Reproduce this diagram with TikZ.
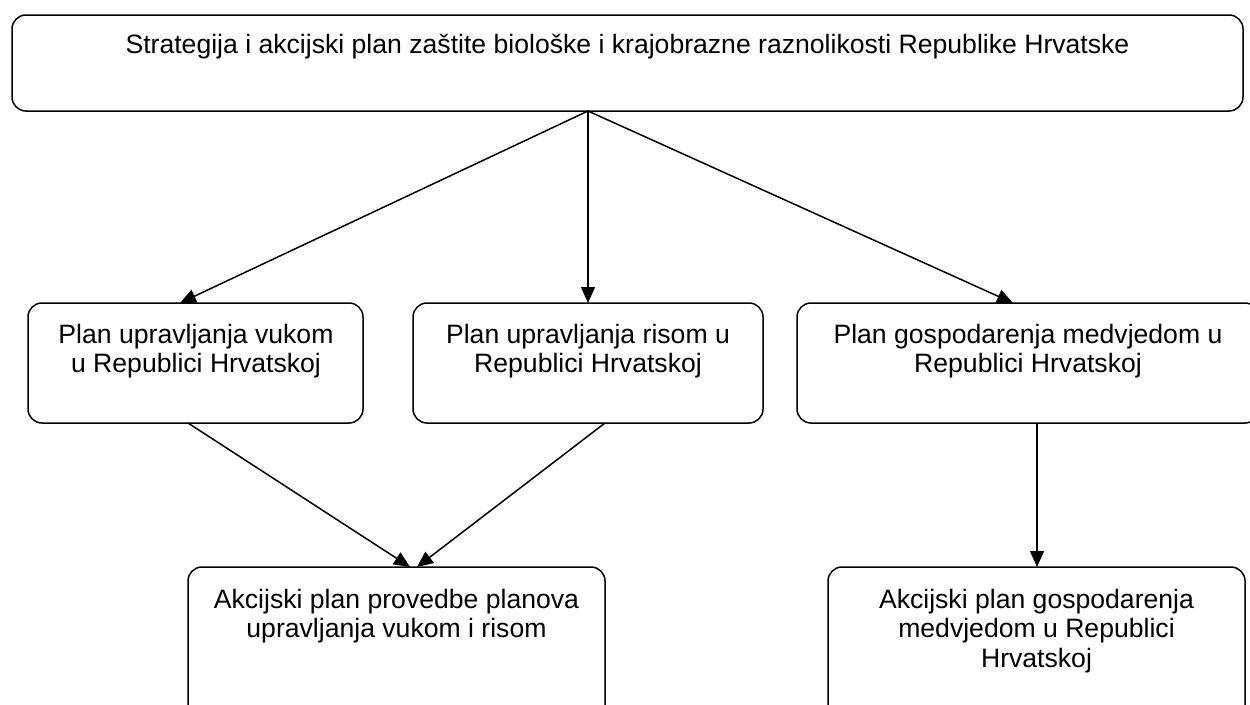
\documentclass[tikz,border=0pt]{standalone}
\usepackage{fontspec}
\setmainfont{Liberation Sans}
\usetikzlibrary{arrows.meta,calc}
\begin{document}
\begin{tikzpicture}[x=1pt,y=-1pt,
  box/.style={draw,line width=1.5pt,rounded corners=14pt,inner sep=0pt,outer sep=0pt},
  txt/.style={align=center,inner sep=0pt,anchor=north,font=\fontsize{26.6}{29.5}\selectfont},
  arr/.style={line width=1.5pt,-{Triangle[length=16pt,width=14pt]}},
  lin/.style={line width=1.5pt}]
\useasboundingbox (0,0) rectangle (1250,704);
\clip (0,0) rectangle (1250,704);
% boxes
\node[box,minimum width=1231pt,minimum height=96pt] (top) at (627.5,63) {};
\node[box,minimum width=335pt,minimum height=120pt] (vl) at (195.5,363) {};
\node[box,minimum width=350pt,minimum height=120pt] (vm) at (588,363) {};
\node[box,minimum width=462pt,minimum height=120pt] (vr) at (1028,363) {};
\node[box,minimum width=417pt,minimum height=153pt] (bl) at (396.5,643.5) {};
\node[box,minimum width=417pt,minimum height=153pt] (br) at (1036.5,643.5) {};
% texts
\node[txt] (ttop) at (627.5,34) {Strategija i akcijski plan zaštite biološke i krajobrazne raznolikosti Republike Hrvatske};
\node[txt] (tvl) at (196,324) {Plan upravljanja vukom\\u Republici Hrvatskoj};
\node[txt] (tvm) at (588,324) {Plan upravljanja risom u\\Republici Hrvatskoj};
\node[txt] (tvr) at (1028,324) {Plan gospodarenja medvjedom u\\Republici Hrvatskoj};
\node[txt] (tbl) at (396.5,589) {Akcijski plan provedbe planova\\upravljanja vukom i risom};
\node[txt] (tbr) at (1036.5,589) {Akcijski plan gospodarenja\\medvjedom u Republici\\Hrvatskoj};
% connector points
\coordinate (apex) at ($(top.south)+(-39.5,0)$);
\coordinate (vlin) at ($(vl.north)+(-15.5,0)$);
\coordinate (vrin) at ($(vr.north)+(-15,0)$);
\coordinate (vlout) at ($(vl.south)+(-7.5,0)$);
\coordinate (vmout) at ($(vm.south)+(17,0)$);
\coordinate (vrout) at ($(vr.south)+(9,0)$);
\coordinate (blin1) at ($(bl.north)+(13.5,0)$);
\coordinate (blin2) at ($(bl.north)+(20.5,0)$);
\coordinate (brin) at ($(br.north)+(0.5,0)$);
% connectors
\draw[arr] (apex) -- (vlin);
\draw[arr] (apex) -- (vm.north);
\draw[arr] (apex) -- (vrin);
\draw[arr] (vlout) -- (blin1);
\draw[arr] (vmout) -- (blin2);
\draw[arr] (vrout) -- (brin);
\end{tikzpicture}
\end{document}
